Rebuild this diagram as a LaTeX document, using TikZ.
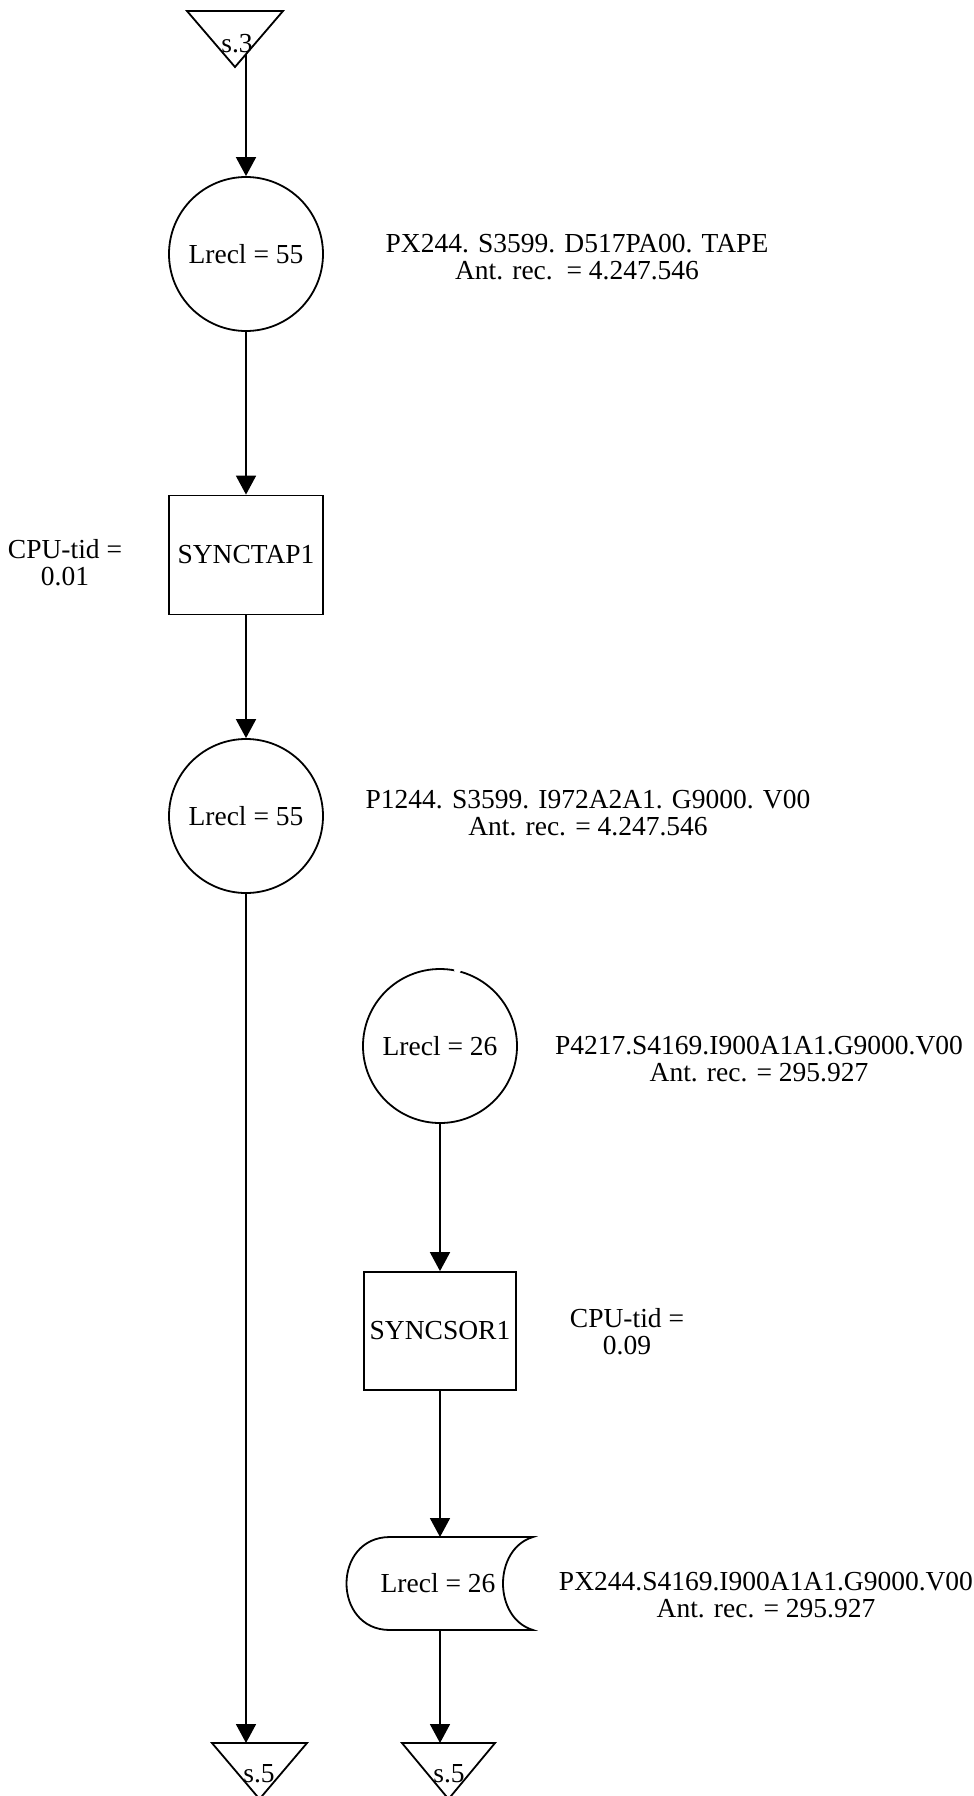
\documentclass[tikz,border=0pt]{standalone}
\usepackage{fontspec}
\setmainfont{Liberation Serif}
\usetikzlibrary{arrows.meta,calc}
\begin{document}
\begin{tikzpicture}[x=1pt,y=-1pt,
  every node/.style={font=\fontsize{27.5}{27}\selectfont},
  lw/.style={line width=1.8pt},
  circnode/.style={circle, draw, lw, minimum size=154pt, inner sep=0pt},
  boxnode/.style={rectangle, draw, lw, minimum width=154pt, minimum height=119pt, inner sep=0pt},
  txt/.style={align=center, inner sep=0pt},
  arr/.style={lw, -{Triangle[length=19pt,width=20pt]}},
  tri/.style={lw, line join=miter}]
\useasboundingbox (0,0) rectangle (974,1796);

% top connector triangle
\draw[tri] (187,11) -- (283,11) -- (235,67) -- cycle;
\node[txt] (s3) at (237,44) {s.3};
\coordinate (t3e) at (246,54);

% left column
\node[circnode] (c1) at (246,254) {Lrecl = 55};
\node[txt] (tx1) at (577,257) {PX244. S3599. D517PA00. TAPE\\Ant. rec.\ \ = 4.247.546};

\node[boxnode] (r1) at (246,555) {\raisebox{-6pt}{SYNCTAP1}};
\node[txt] (cpu1) at (65,563) {CPU-tid =\\0.01};

\node[circnode] (c2) at (246,816) {Lrecl = 55};
\node[txt] (tx2) at (588,813) {P1244. S3599. I972A2A1. G9000. V00\\Ant. rec. = 4.247.546};

% right column
\node[circnode] (c3) at (440,1046) {Lrecl = 26};
\fill[white] (c3.77) circle[radius=3.5];
\node[txt] (tx3) at (759,1059) {P4217.S4169.I900A1A1.G9000.V00\\Ant. rec. = 295.927};

\node[boxnode, minimum width=152pt, minimum height=118pt] (r2) at (440,1331) {SYNCSOR1};
\node[txt] (cpu2) at (627,1332) {CPU-tid =\\0.09};

% tape / stored data symbol
\node[txt] (tp) at (438,1583) {Lrecl = 26};
\draw[lw] (390,1537) -- (533,1537)
  .. controls (493,1549) and (493,1618) .. (533,1630)
  -- (390,1630)
  .. controls (332,1630) and (332,1537) .. (390,1537) -- cycle;
\coordinate (tpt) at (440,1537);
\coordinate (tpb) at (440,1630);
\node[txt] (tx4) at (766,1595) {PX244.S4169.I900A1A1.G9000.V00\\Ant. rec. = 295.927};

% bottom connector triangles
\draw[tri] (212,1743) -- (307,1743) -- (259.5,1799) -- cycle;
\node[txt] (s5a) at (259,1774) {s.5};
\coordinate (t5a) at (246,1743);
\draw[tri] (402,1743) -- (495,1743) -- (448.5,1799) -- cycle;
\node[txt] (s5b) at (449,1774) {s.5};
\coordinate (t5b) at (440,1743);

% connectors
\draw[arr] (t3e) -- (t3e |- c1.north);
\draw[arr] (c1.south) -- (r1.north);
\draw[arr] (r1.south) -- (c2.north);
\draw[arr] (c2.south) -- (t5a);
\draw[arr] (c3.south) -- (r2.north);
\draw[arr] (r2.south) -- (tpt);
\draw[arr] (tpb) -- (t5b);
\end{tikzpicture}
\end{document}
